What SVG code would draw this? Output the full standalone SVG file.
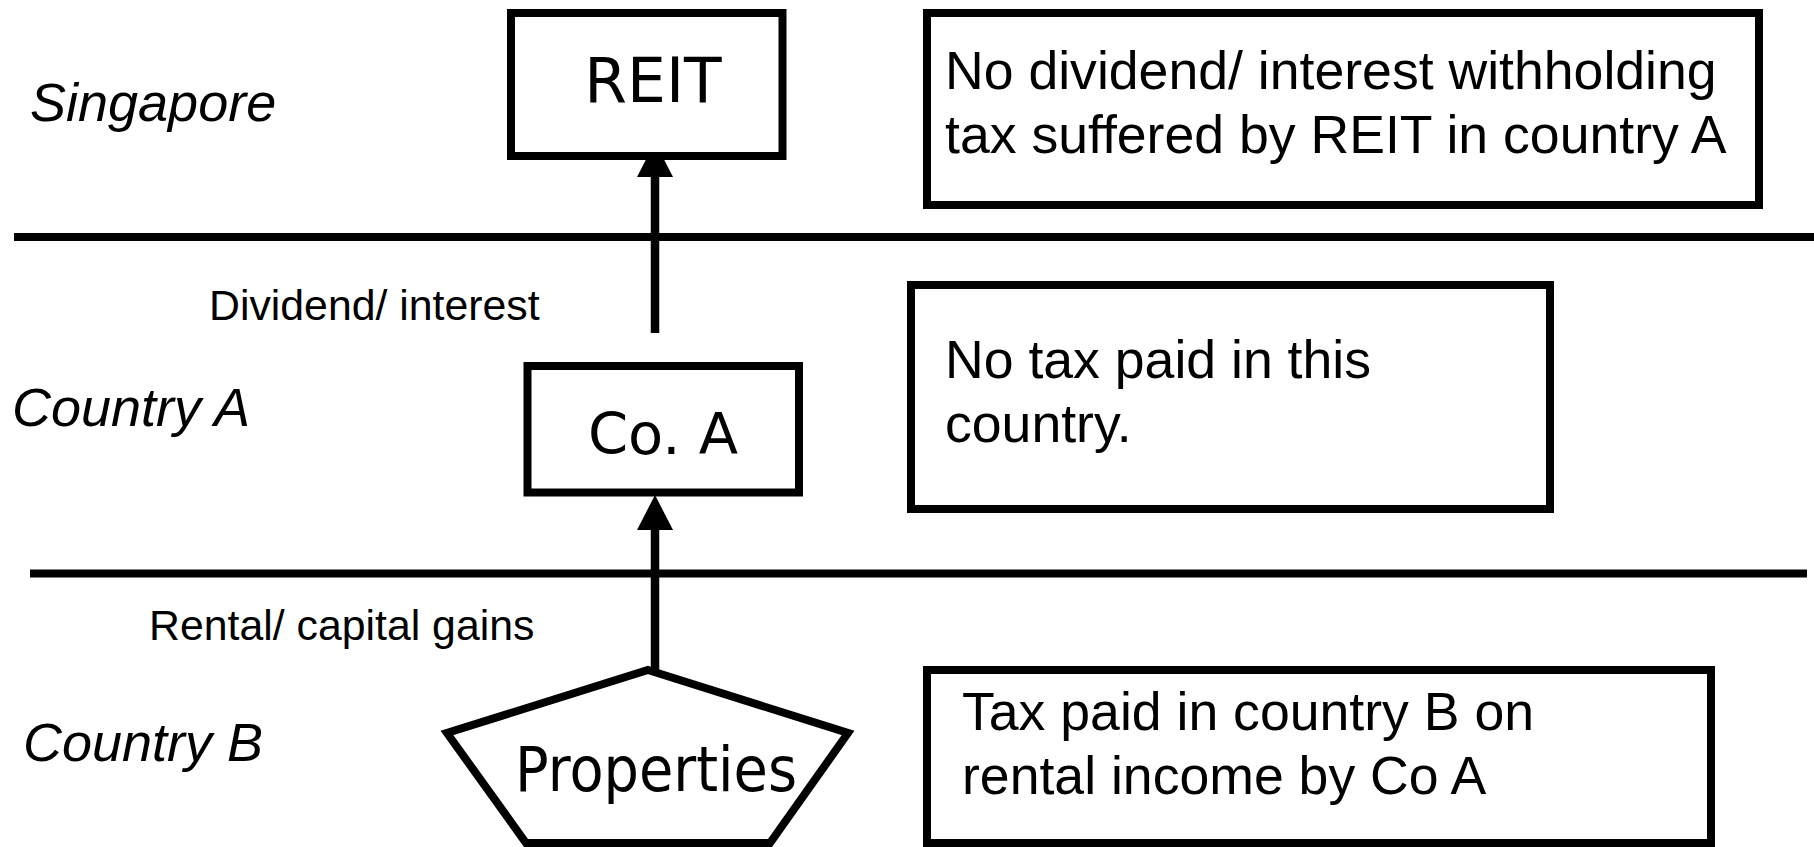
<svg xmlns="http://www.w3.org/2000/svg" width="1814" height="847" viewBox="0 0 1814 847">
  <style>
    .box { fill: #fff; stroke: #000; stroke-width: 8; }
    .divider { stroke: #000; stroke-width: 8; }
    .flow { stroke: #000; stroke-width: 8.5; fill: none; }
    .region { font-family: "Liberation Sans", Arial, sans-serif; font-style: italic; font-size: 54px; fill: #000; }
    .flowlabel { font-family: "Liberation Sans", Arial, sans-serif; font-size: 42.8px; fill: #000; }
    .note { font-family: "Liberation Sans", Arial, sans-serif; font-size: 53.6px; fill: #000; }
    .entity { font-family: "DejaVu Sans", Verdana, sans-serif; fill: #000; }
  </style>
  <defs>
    <marker id="arrowhead" markerUnits="userSpaceOnUse" markerWidth="36" markerHeight="36" refX="0" refY="18" orient="auto" overflow="visible">
      <path d="M0,0 L35,18 L0,36 z" fill="#000"/>
    </marker>
  </defs>
  <rect width="1814" height="847" fill="#fff"/>

  <!-- jurisdiction dividers -->
  <g id="dividers">
    <line class="divider" x1="14" y1="237" x2="1814" y2="237"/>
    <line class="divider" x1="30" y1="573.5" x2="1807" y2="573.5"/>
  </g>

  <!-- jurisdiction names -->
  <g id="regions">
    <text class="region" x="30" y="121">Singapore</text>
    <text class="region" x="12" y="426">Country A</text>
    <text class="region" x="23" y="761">Country B</text>
  </g>

  <!-- income flows -->
  <g id="connectors">
    <line class="flow" x1="655" y1="333" x2="655" y2="177" marker-end="url(#arrowhead)"/>
    <line class="flow" x1="655" y1="670" x2="655" y2="530" marker-end="url(#arrowhead)"/>
    <text class="flowlabel" x="209" y="320">Dividend/ interest</text>
    <text class="flowlabel" x="149" y="640">Rental/ capital gains</text>
  </g>

  <g id="reit">
    <rect class="box" x="511" y="13" width="271.5" height="143"/>
    <text class="entity" x="653" y="102" font-size="61.5" text-anchor="middle">REIT</text>
  </g>

  <g id="co-a">
    <rect class="box" x="527.5" y="366" width="271.5" height="126.5"/>
    <text class="entity" x="663" y="454" font-size="57.5" text-anchor="middle">Co. A</text>
  </g>

  <g id="properties">
    <polygon class="box" points="648,670 848,733 770,843 526,843 447,733"/>
    <text class="entity" x="515" y="791" font-size="63" textLength="282" lengthAdjust="spacingAndGlyphs">Properties</text>
  </g>

  <g id="note-singapore">
    <rect class="box" x="927" y="13" width="832" height="192"/>
    <text class="note" x="945" y="89">No dividend/ interest withholding</text>
    <text class="note" x="945" y="153">tax suffered by REIT in country A</text>
  </g>

  <g id="note-country-a">
    <rect class="box" x="911" y="285" width="639" height="224"/>
    <text class="note" x="945" y="378">No tax paid in this</text>
    <text class="note" x="945" y="442">country.</text>
  </g>

  <g id="note-country-b">
    <rect class="box" x="927" y="670" width="784" height="173"/>
    <text class="note" x="962" y="730">Tax paid in country B on</text>
    <text class="note" x="962" y="794">rental income by Co A</text>
  </g>
</svg>
